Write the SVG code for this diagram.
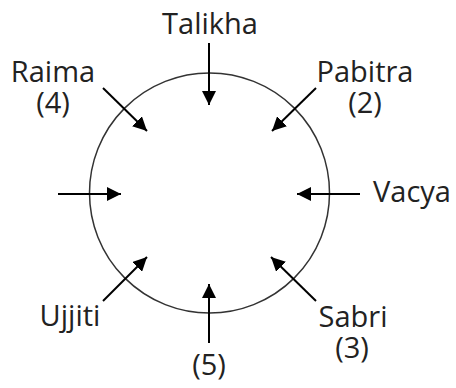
<svg xmlns="http://www.w3.org/2000/svg" width="456" height="388" viewBox="0 0 456 388">
<style>
.t{font-family:"Open Sans","Noto Sans",sans-serif;font-size:29px;fill:#222;text-anchor:middle}
.a{stroke:#000;stroke-width:2;fill:none;marker-end:url(#ah)}
</style>
<defs>
<marker id="ah" viewBox="0 0 10 10" refX="10" refY="5" markerWidth="7" markerHeight="7" orient="auto" markerUnits="strokeWidth">
<path d="M0,0 L10,5 L0,10 z" fill="#000"/>
</marker>
</defs>
<rect width="456" height="388" fill="#fff"/>
<g id="table"><circle cx="209.5" cy="193" r="120" fill="none" stroke="#333" stroke-width="1.5"/></g>
<g id="connectors">
<line class="a" x1="209" y1="43" x2="209" y2="105"/>
<line class="a" x1="103" y1="88" x2="147" y2="131"/>
<line class="a" x1="316" y1="88" x2="272" y2="131"/>
<line class="a" x1="58" y1="194" x2="121" y2="194"/>
<line class="a" x1="360" y1="194" x2="297" y2="194"/>
<line class="a" x1="103" y1="301" x2="147" y2="257"/>
<line class="a" x1="316" y1="301" x2="271" y2="257"/>
<line class="a" x1="209" y1="343" x2="209" y2="284"/>
</g>
<g id="talikha"><text class="t" x="210" y="34">Talikha</text></g>
<g id="raima"><text class="t" x="53" y="82">Raima<tspan x="53" dy="31">(4)</tspan></text></g>
<g id="pabitra"><text class="t" x="365" y="82">Pabitra<tspan x="365" dy="31">(2)</tspan></text></g>
<g id="vacya"><text class="t" x="412" y="202">Vacya</text></g>
<g id="ujjiti"><text class="t" x="70" y="326">Ujjiti</text></g>
<g id="sabri"><text class="t" x="353" y="327">Sabri<tspan x="352" dy="31">(3)</tspan></text></g>
<g id="five"><text class="t" x="209" y="375">(5)</text></g>
</svg>
